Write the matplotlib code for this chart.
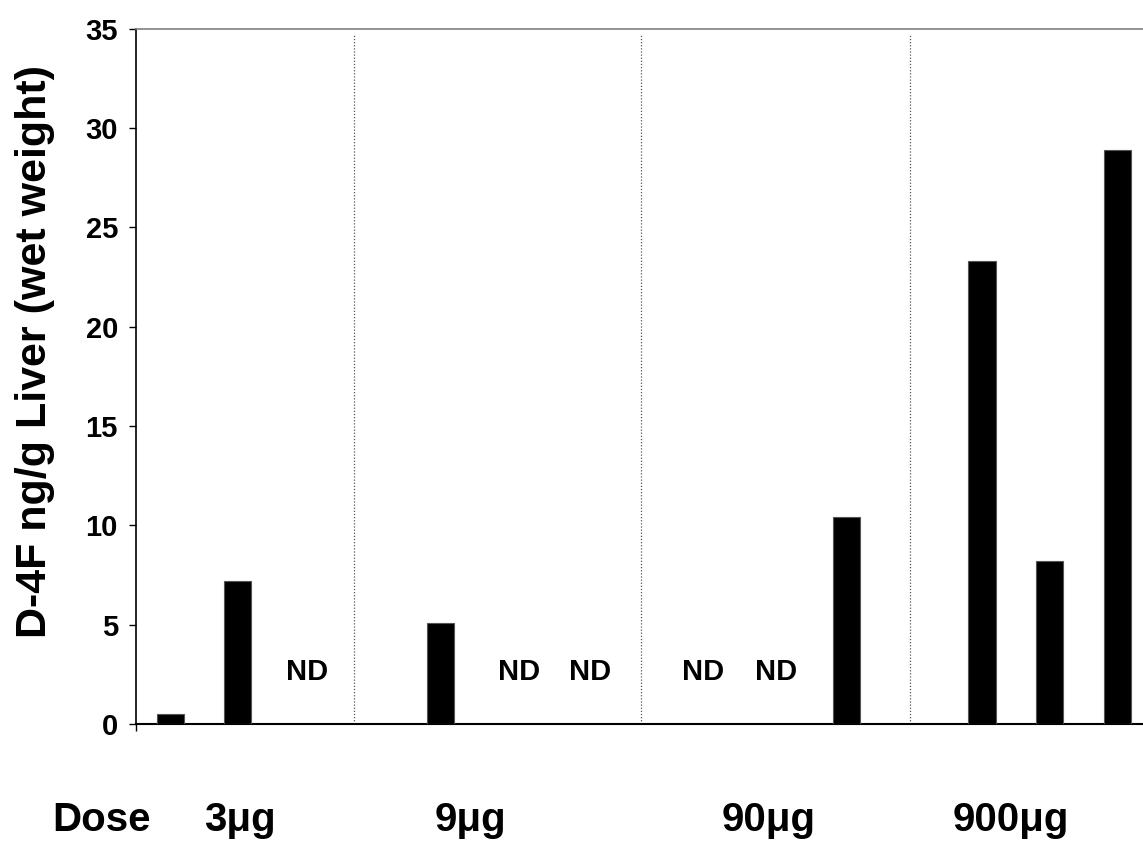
"""
Figure: D-4F in liver (ng/g wet weight) per animal, grouped by oral dose.
Output: out.png
"""
import matplotlib
matplotlib.use("Agg")
import matplotlib.pyplot as plt
import matplotlib.transforms as mtransforms

plt.rcParams.update({
    "font.family": ["Liberation Sans", "DejaVu Sans"],
    "font.weight": "bold",
    "figure.dpi":  100,
})

# Data: one list per dose group, None = not detected (ND)
DOSES = ["3\u03bcg", "9\u03bcg", "90\u03bcg", "900\u03bcg"]
GROUP_3UG   = [0.5, 7.2, None]
GROUP_9UG   = [5.08, None, None]
GROUP_90UG  = [None, None, 10.43]
GROUP_900UG = [23.3, 8.2, 28.9]
GROUPS = [GROUP_3UG, GROUP_9UG, GROUP_90UG, GROUP_900UG]

Y_TICKS = [0, 5, 10, 15, 20, 25, 30, 35]

# Layout (slot units): each group uses 3 slots plus an empty one
SLOTS_PER_GROUP = 4
BAR_WIDTH       = 0.4
SEPARATORS      = [2.72, 6.96, 10.94]
DOSE_LABEL_X    = [1.03, 4.44, 8.85, 12.42]
ND_NUDGE        = {2: 0.03, 5: 0.16, 6: 0.21, 8: -0.12, 9: -0.04}
ND_Y            = 2.6

fig = plt.figure(figsize=(11.43, 8.46))
ax = fig.add_axes([0.119, 0.1442, 0.881, 0.8221])

bar_x, bar_h, nd_x = [], [], []
for g, vals in enumerate(GROUPS):
    for i, v in enumerate(vals):
        slot = g * SLOTS_PER_GROUP + i
        if v is None:
            nd_x.append(slot + ND_NUDGE.get(slot, 0.0))
        else:
            bar_x.append(slot)
            bar_h.append(v)

ax.bar(bar_x, bar_h, width=BAR_WIDTH, color="black",
       edgecolor="#555555", linewidth=0.8, zorder=3)

for x in nd_x:
    ax.text(x, ND_Y, "ND", ha="center", va="center",
            fontsize=21, fontweight="bold")

for x in SEPARATORS:
    ax.plot([x, x], [0, 34.7], color="#555555", linestyle=(0, (1, 1.5)),
            linewidth=0.9, zorder=1)

ax.set_xlim(-0.503, 14.38)
ax.set_ylim(0, 35)
ax.set_yticks(Y_TICKS)
ax.set_yticklabels([str(t) for t in Y_TICKS])
ax.tick_params(axis="y", direction="out", length=5, width=1,
               labelsize=21, pad=8)
ax.set_xticks([-0.503])
ax.set_xticklabels([""])
ax.tick_params(axis="x", direction="out", length=5, width=1)

ax.spines["right"].set_visible(False)
ax.spines["top"].set_color("#808080")
ax.spines["top"].set_linewidth(1.2)
ax.spines["left"].set_linewidth(1.2)
ax.spines["bottom"].set_linewidth(1.5)

ax.set_ylabel("D-4F ng/g Liver (wet weight)", fontsize=31,
              fontweight="bold", va="center")
ax.yaxis.set_label_coords(-0.1, 0.535)

# Dose labels below the axis
trans = mtransforms.blended_transform_factory(ax.transData, fig.transFigure)
dose_y = 1 - 820 / 846
fig.text(52 / 1143, dose_y, "Dose", ha="left", va="center",
         fontsize=29, fontweight="bold")
for x, lab in zip(DOSE_LABEL_X, DOSES):
    ax.text(x, dose_y, lab, transform=trans, ha="center", va="center",
            fontsize=29, fontweight="bold", clip_on=False)

fig.savefig("out.png", dpi=100)
plt.close(fig)
